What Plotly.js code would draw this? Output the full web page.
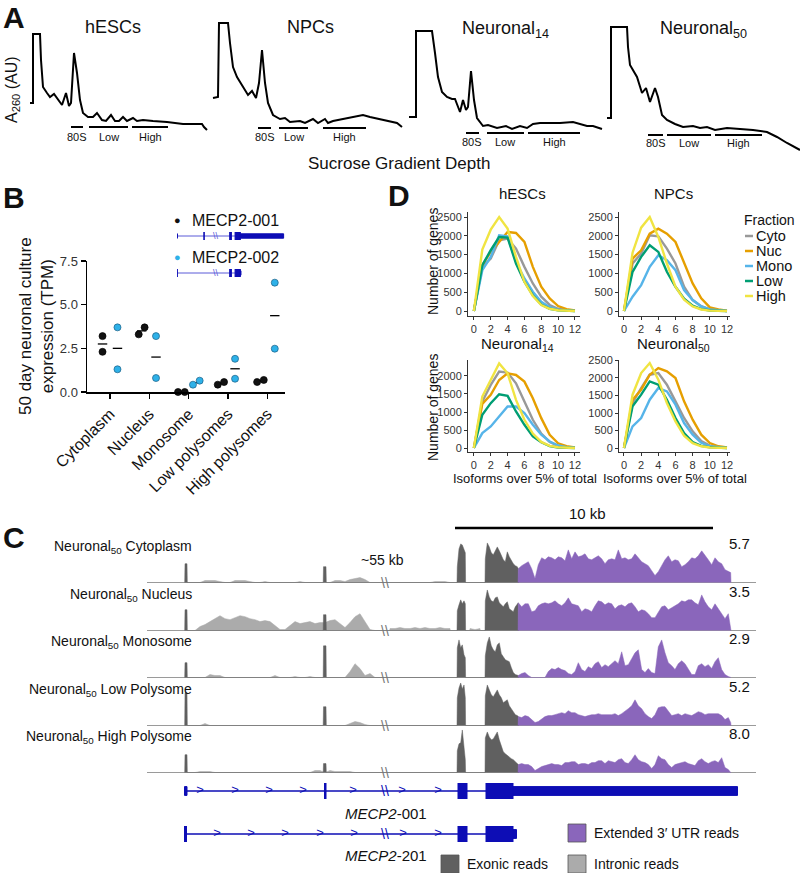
<!DOCTYPE html>
<html><head><meta charset="utf-8">
<script src="https://cdn.plot.ly/plotly-3.0.1.min.js"></script>
<style>html,body{margin:0;padding:0;background:#fff}</style>
</head><body><div id="chart" style="width:800px;height:873px"></div>
<script>
// ================= DATA =================
// --- Panel A: sucrose gradient A260 traces (depth, absorbance AU) ---
const gradientNames=['hESCs','NPCs','Neuronal<sub>14</sub>','Neuronal<sub>50</sub>'];
const hescDepth=[2,5,5,12,13,15,19,22,26,30,34,38,41,43,46,49,52,55,60,65,69,74,78,83,87,91,95,99,105,109,115,125,139,155,174,176,179];
const hescA260=[49,49,118,118,92,65,59,55,58,52,47,59,46,49,99,79,52,39,35,35,39,32,31,37,31,31,35,31,34,31,32,31,30,28,28,25,22];
const npcDepth=[2,7,8,17,19,22,26,29,34,37,41,45,48,51,54,57,62,69,74,79,89,94,102,107,114,117,122,132,142,152,159,172,186,191];
const npcA260=[54,55,129,129,109,85,75,70,63,57,61,54,69,102,69,49,37,33,34,30,31,29,33,29,33,29,31,33,35,37,35,32,29,25];
const n14Depth=[3,10,10,26,29,32,36,41,46,49,54,57,60,62,65,68,71,77,82,91,100,106,114,121,127,134,144,154,167,176,181,187,196];
const n14A260=[35,35,121,121,99,75,60,55,53,53,40,52,42,45,81,52,34,26,27,24,26,23,26,24,28,29,29,29,30,27,26,26,23];
const n50Depth=[2,6,6,22,23,25,32,37,41,45,50,53,57,62,70,78,88,95,102,110,122,135,148,162,172,182,190,195];
const n50A260=[34,34,125,125,105,87,75,59,64,50,64,55,37,32,28,25,26,24,25,22,24,23,22,20,15,9,5,2];
const fractionLabels=['80S','Low','High'];
const hescFractions=[[43,55],[61,100],[104,140]];
const npcFractions=[[47,60],[68,97],[112,155]];
const n14Fractions=[[60,73],[81,118],[122,174]];
const n50Fractions=[[43,58],[62,106],[110,157]];

// --- Panel B: MECP2 isoform expression (TPM), two replicates per fraction ---
const bCategories=['Cytoplasm','Nucleus','Monosome','Low polysomes','High polysomes'];
const mecp2_001=[[3.2,2.3],[3.3,3.7],[0,0],[0.42,0.57],[0.57,0.69]];
const mecp2_002=[[3.7,1.3],[3.2,0.8],[0.42,0.65],[1.9,0.76],[6.26,2.48]];

// --- Panel D: number of genes vs isoforms over 5% of total ---
const isoformCount=[0,1,2,3,4,5,6,7,8,9,10,11,12];
const fractions=['Cyto','Nuc','Mono','Low','High'];
const hescGenes={Cyto:[0,1174,1395,1880,1925,1660,1174,733,380,160,60,20,5],
  Nuc:[0,1218,1572,1836,2101,2075,1836,1174,645,336,132,50,15],
  Mono:[0,1086,1439,2013,1987,1307,865,512,247,100,35,10,0],
  Low:[0,1218,1616,1969,1951,1263,777,420,170,60,20,5,0],
  High:[0,1634,2163,2500,2190,1440,777,397,159,60,20,5,0]};
const npcGenes={Cyto:[0,1263,1528,2013,1987,1660,1263,645,291,130,45,15,0],
  Nuc:[0,1395,1616,2057,2190,2057,1836,1263,733,336,97,40,10],
  Mono:[0,380,689,1174,1483,1351,1086,556,291,120,40,10,0],
  Low:[0,1042,1439,1748,1572,1042,645,330,140,50,15,5,0],
  High:[0,1550,2216,2500,1969,1263,645,300,120,40,10,0,0]};
const n14Genes={Cyto:[0,1291,1752,2121,2093,1798,1291,784,400,170,60,20,5],
  Nuc:[0,1226,1475,1890,2075,2028,1844,1383,830,369,130,50,15],
  Mono:[0,415,599,876,1153,1153,968,645,369,180,70,20,5],
  Low:[0,922,1245,1494,1448,1014,645,323,160,50,15,5,0],
  High:[0,1429,1890,2351,2075,1337,784,400,170,60,20,5,0]};
const n50Genes={Cyto:[0,1285,1714,2094,2142,1809,1333,857,476,200,70,20,5],
  Nuc:[0,1380,1666,2094,2285,2190,2000,1333,809,381,143,50,15],
  Mono:[0,619,857,1380,1714,1618,1238,714,381,150,50,15,0],
  Low:[0,1190,1523,1904,1809,1380,857,428,170,60,20,5,0],
  High:[0,1523,2142,2428,1952,1285,762,350,140,50,15,5,0]};

// --- Panel C: read coverage tracks (display genome coordinate, coverage height) ---
const trackNames=['Neuronal<sub>50</sub> Cytoplasm','Neuronal<sub>50</sub> Nucleus','Neuronal<sub>50</sub> Monosome','Neuronal<sub>50</sub> Low Polysome','Neuronal<sub>50</sub> High Polysome'];
const trackScale=['5.7','3.5','2.9','5.2','8.0'];
const intronPosLeft=[190,195,200,205,210,215,220,225,230,235,240,245,250,255,260,265,270,275,280,285,290,295,300,305,310,315,320,325,330,335,340,345,350,355,360,365,370,375,380];
const intronPosRight=[390,395,400,405,410,415,420,425,430,435,440,445,450];
const intronPosMid=[470,475,480];
const intronLeft=[
 [0,0,0,2,2,2,1,0,0,2,2,2,1,0,0,1,0,0,0,0,0,0,1,0,0,0,0,0,0,2,2,1,3,4,5,3,0,0,0],
 [0,0,4,6,9,12,15,12,11,13,15,14,12,11,9,10,9,5,1,1,5,9,7,8,9,7,8,8,10,11,7,3,8,14,17,9,1,0,0],
 [0,0,0,0,3,2,2,0,0,0,0,0,0,0,0,0,0,2,0,0,0,1,0,0,1,0,0,0,0,0,0,0,6,14,9,2,4,0,0],
 [0,0,0,2,0,0,0,0,0,0,0,0,0,0,0,0,0,0,0,0,0,0,0,0,0,0,0,0,0,0,0,0,2,4,3,1,0,0,0],
 [0,0,1,1,1,0,0,0,0,0,0,0,0,0,0,0,0,0,0,0,0,0,0,0,0,2,2,0,2,1,1,1,1,0,0,0,0,0,0]];
const intronRight=[
 [0,0,0,0,0,0,0,0,0,1,1,1,0],
 [2,2,3,2,2,3,2,3,2,2,3,2,2],
 [0,0,0,0,0,0,0,0,0,0,0,0,0],
 [0,0,0,0,0,0,0,0,0,0,0,0,0],
 [0,0,0,0,0,0,0,0,0,0,0,0,0]];
const intronMid=[[0,0,0],[2,1,2],[0,0,0],[0,0,0],[0,0,0]];
const exon1Pos=[185,187];
const exon2Pos=[323.5,326];
const exon3Pos=[457.3,459.0,460.7,462.3,464.0,465.3];
const exon4Pos=[485.3,487.3,489.3,491.3,493.3,495.3,497.3,499.3,501.3,503.3,505.3,507.3,509.3,511.3,513.3,515.3,517.3,518.3];
const exon1H=[19,21,15,33,18];
const exon2H=[16,16,32,19,9];
const exon3H=[[16,34,39,38,33,30],[20,26,31,27,30,27],[30,38,30,33,23,20],[28,38,43,37,41,28],[22,29,30,43,26,13]];
const exon4H=[
 [24,40,36,30,28,33,36,32,27,23,21,31,26,22,19,17,16,14],
 [30,41,34,30,29,33,34,28,26,24,27,29,22,20,19,24,26,28],
 [22,35,41,32,28,26,33,35,24,21,18,17,16,10,5,3,2,2],
 [30,41,35,31,29,33,36,31,28,23,25,26,20,17,13,11,10,9],
 [35,41,36,33,34,38,41,33,26,21,19,17,15,14,13,11,9,8]];
const utrPos=[518.3,521.7,525.0,528.3,531.7,535.0,538.3,541.7,545.0,548.3,551.7,555.0,558.3,561.7,565.0,568.3,571.7,575.0,578.3,581.7,585.0,588.3,591.7,595.0,598.3,601.7,605.0,608.3,611.7,615.0,618.3,621.7,625.0,628.3,631.7,635.0,638.3,641.7,645.0,648.3,651.7,655.0,658.3,661.7,665.0,668.3,671.7,675.0,678.3,681.7,685.0,688.3,691.7,695.0,698.3,701.7,705.0,708.3,711.7,715.0,718.3,721.7,725.0,728.3,730.7];
const utrH=[
 [14,17,19,21,14,4,18,25,23,26,25,23,26,25,22,33,24,31,26,27,29,24,23,25,27,24,19,23,24,23,33,24,25,23,24,29,25,21,19,17,12,7,11,17,23,27,21,23,22,16,18,21,25,24,27,32,28,23,18,25,21,19,13,11,10],
 [28,24,27,27,19,20,25,27,28,27,28,30,27,25,28,33,27,26,25,19,22,21,19,25,30,29,26,28,27,22,25,26,24,27,28,24,19,21,20,17,13,13,19,24,25,21,23,25,27,30,29,31,31,28,26,36,29,24,21,27,22,17,12,17,4],
 [2,4,5,2,0,0,0,0,0,6,9,8,10,8,7,4,3,6,15,8,6,11,9,14,16,10,13,11,14,17,14,26,12,13,19,25,28,8,5,9,5,4,31,38,25,15,12,8,14,17,14,8,3,3,12,14,11,13,9,16,20,8,3,1,0],
 [9,8,10,9,6,3,4,7,9,10,10,11,12,13,12,15,13,13,11,10,9,10,11,11,12,11,11,11,11,12,10,12,15,17,20,26,20,17,12,9,7,11,18,19,19,14,10,11,12,10,12,11,10,12,14,13,11,12,12,12,12,10,6,8,3],
 [8,9,8,8,6,2,4,6,7,8,9,8,8,7,10,10,11,11,8,9,9,8,10,10,12,12,9,12,11,10,13,14,10,9,13,18,13,11,10,8,4,8,17,14,13,8,5,8,9,10,11,9,8,7,12,14,11,9,11,12,10,15,5,3,0]];
const breakPos=385;
// gene models: [start, end, part]
const mecp2_001_exons=[[184.5,187,'utr'],[324.5,326,'cds'],[458,467,'cds'],[486,513,'cds'],[513,737.5,'utr']];
const mecp2_201_exons=[[184.5,186.5,'cds'],[458,467,'cds'],[486,513,'cds'],[513,516.5,'utr']];
const chevrons001=[200,235,269,303,353,402,438];
const chevrons201=[217,251,285,320,354,403,438];
const scaleBar10kb=[455,713];

// ================= STYLE / LAYOUT =================
const W=800,H=873;
const FONT='Liberation Sans, Arial, Helvetica, sans-serif';
const dx=(a,b)=>[a/W,b/W];
const dy=(t,b)=>[1-b/H,1-t/H];
const px=x=>x/W, py=y=>1-y/H;
const fractionColors={Cyto:'#999999',Nuc:'#E69F00',Mono:'#56B4E9',Low:'#009E73',High:'#F0E442'};
const PURPLE='#8a66bb', EXONIC='#606060', INTRONIC='#ababab', GENE='#0d0db5', BASE='#9a9a9a';
const exonHalf={cds:1,utr:0.55};

const data=[];
const layout={width:W,height:H,margin:{l:0,r:0,t:0,b:0},paper_bgcolor:'#fff',plot_bgcolor:'rgba(0,0,0,0)',
  showlegend:false,font:{family:FONT,color:'#111'},annotations:[],shapes:[]};
function ann(o){const f=Object.assign({family:FONT,size:14,color:'#111'},o.font||{});
  layout.annotations.push(Object.assign({showarrow:false,xref:'paper',yref:'paper',xanchor:'center',yanchor:'middle',borderpad:0},o,{font:f}));}
const hidden=o=>Object.assign({visible:false,fixedrange:true},o);
const sfx=n=>n===1?'':String(n);

// ---------- Panel A ----------
const aSeries=[[hescDepth,hescA260,hescFractions],[npcDepth,npcA260,npcFractions],[n14Depth,n14A260,n14Fractions],[n50Depth,n50A260,n50Fractions]];
const aCfg=[{dom:[28,210],w:182,barY:25,labY:15,tx:113,ty:27},{dom:[211,404],w:193,barY:24,labY:15,tx:310,ty:27},
            {dom:[406,604],w:198,barY:19,labY:10,tx:505,ty:30},{dom:[605,800],w:195,barY:17,labY:9,tx:703,ty:30}];
aSeries.forEach((s,i)=>{
  const n=i+1,c=aCfg[i];
  layout['xaxis'+sfx(n)]=hidden({domain:dx(c.dom[0],c.dom[1]),range:[0,c.w],anchor:'y'+sfx(n)});
  layout['yaxis'+sfx(n)]=hidden({domain:dy(20,152),range:[0,132],anchor:'x'+sfx(n)});
  data.push({type:'scatter',mode:'lines',x:s[0],y:s[1],xaxis:'x'+sfx(n),yaxis:'y'+sfx(n),line:{color:'#000',width:2},hoverinfo:'skip',cliponaxis:false});
  s[2].forEach((f,k)=>{
    data.push({type:'scatter',mode:'lines',x:f,y:[c.barY,c.barY],xaxis:'x'+sfx(n),yaxis:'y'+sfx(n),line:{color:'#000',width:2},hoverinfo:'skip'});
    ann({xref:'x'+sfx(n),yref:'y'+sfx(n),x:(f[0]+f[1])/2,y:c.labY,text:fractionLabels[k],font:{size:11}});
  });
  ann({x:px(c.tx),y:py(c.ty),text:gradientNames[i],font:{size:18}});
});
ann({x:px(13),y:py(90),text:'A<sub>260</sub> (AU)',textangle:-90,font:{size:16}});
ann({x:px(399),y:py(163),text:'Sucrose Gradient Depth',font:{size:17}});
ann({x:px(14),y:py(17),text:'<b>A</b>',font:{size:30}});

// ---------- Panel B ----------
const off001=[[-0.19,-0.19],[-0.27,-0.12],[-0.27,-0.1],[-0.26,-0.1],[-0.26,-0.09]];
const off002=[[0.19,0.19],[0.17,0.17],[0.11,0.28],[0.18,0.18],[0.19,0.19]];
layout.xaxis5={domain:dx(87,285),range:[-0.585,4.45],anchor:'y5',tickmode:'array',tickvals:[0,1,2,3,4],ticktext:bCategories,
  tickangle:-45,ticks:'outside',ticklen:5,tickwidth:1.5,tickcolor:'#000',showline:true,linecolor:'#000',linewidth:1.5,
  showgrid:false,zeroline:false,tickfont:{family:FONT,size:16,color:'#111'},fixedrange:true};
layout.yaxis5={domain:dy(261,392),range:[0,7.5],anchor:'x5',tickmode:'array',tickvals:[0,2.5,5,7.5],ticktext:['0.0','2.5','5.0','7.5'],
  ticks:'outside',ticklen:5,tickwidth:1.5,tickcolor:'#000',showline:true,linecolor:'#000',linewidth:1.5,
  showgrid:false,zeroline:false,tickfont:{family:FONT,size:13,color:'#333'},fixedrange:true};
function bPoints(vals,offs,color,lineColor){
  const X=[],Y=[],MX=[],MY=[];
  vals.forEach((r,c)=>{r.forEach((v,j)=>{X.push(c+offs[c][j]);Y.push(v);});
    const m=(r[0]+r[1])/2, mo=(offs[c][0]+offs[c][1])/2; MX.push(c+mo-0.12,c+mo+0.12,null); MY.push(m,m,null);});
  data.push({type:'scatter',mode:'lines',x:MX,y:MY,xaxis:'x5',yaxis:'y5',line:{color:'#000',width:1.3},hoverinfo:'skip'});
  data.push({type:'scatter',mode:'markers',x:X,y:Y,xaxis:'x5',yaxis:'y5',cliponaxis:false,
    marker:{size:7,color:color,line:{color:lineColor,width:0.7}},hoverinfo:'skip'});
}
bPoints(mecp2_001,off001,'#111111','#000');
bPoints(mecp2_002,off002,'#2eb1e8','#1b5f85');
ann({x:px(36),y:py(326),text:'50 day neuronal culture<br>expression (TPM)',textangle:-90,font:{size:17}});
ann({x:px(14),y:py(198),text:'<b>B</b>',font:{size:30}});
// legend
ann({x:px(177),y:py(220),text:'●',font:{size:11,color:'#111'}});
ann({x:px(191),y:py(220),xanchor:'left',text:'MECP2-001',font:{size:16}});
ann({x:px(177),y:py(257),text:'●',font:{size:11,color:'#2eb1e8'}});
ann({x:px(191),y:py(257),xanchor:'left',text:'MECP2-002',font:{size:16}});

function geneTraces(exons,chev,xa,ya,lw,lineColor,chevSize){
  const xs=[],ys=[];
  exons.forEach(e=>{const h=exonHalf[e[2]];xs.push(e[0],e[1],e[1],e[0],e[0],null);ys.push(-h,-h,h,h,-h,null);});
  const out=[{type:'scatter',mode:'lines',x:[exons[0][0],exons[exons.length-1][1]],y:[0,0],xaxis:xa,yaxis:ya,line:{color:lineColor,width:lw},hoverinfo:'skip'},
    {type:'scatter',mode:'lines',x:xs,y:ys,xaxis:xa,yaxis:ya,fill:'toself',fillcolor:GENE,line:{color:GENE,width:1},hoverinfo:'skip',cliponaxis:false}];
  if(chev) out.push({type:'scatter',mode:'text',x:chev,y:chev.map(()=>0),text:chev.map(()=>'>'),textposition:'middle center',
    textfont:{family:FONT,size:chevSize,color:GENE},xaxis:xa,yaxis:ya,hoverinfo:'skip',cliponaxis:false});
  return out;
}
// mini gene models in legend B
layout.xaxis6=hidden({domain:dx(177,287),range:[185,755],anchor:'y6'});
layout.yaxis6=hidden({domain:dy(232,240),range:[-1,1],anchor:'x6'});
layout.yaxis7=hidden({domain:dy(269,277),range:[-1,1],anchor:'x6'});
data.push(...geneTraces(mecp2_001_exons,null,'x6','y6',1,'#5a5ad8'));
data.push(...geneTraces(mecp2_201_exons,null,'x6','y7',1,'#5a5ad8'));
ann({xref:'x6',yref:'paper',x:breakPos,y:py(236),text:'\\\\',font:{size:9,color:'#5a5ad8'}});
ann({xref:'x6',yref:'paper',x:breakPos,y:py(273),text:'\\\\',font:{size:9,color:'#5a5ad8'}});

// ---------- Panel D ----------
const dCfg=[
  {genes:hescGenes,name:'hESCs',xd:[468,580],yd:[212,316],xr:[-0.7,12.6],yr:[-133,2633],tx:522,ty:193},
  {genes:npcGenes,name:'NPCs',xd:[619,730],yd:[212,316],xr:[-0.58,12.35],yr:[-133,2633],tx:673,ty:193},
  {genes:n14Genes,name:'Neuronal<sub>14</sub>',xd:[468,580],yd:[360,452],xr:[-0.7,12.6],yr:[-111,2444],tx:517,ty:345},
  {genes:n50Genes,name:'Neuronal<sub>50</sub>',xd:[619,730],yd:[360,452],xr:[-0.58,12.35],yr:[-114,2514],tx:673,ty:345}];
const dAx={showline:true,linecolor:'#333',linewidth:1,ticks:'outside',ticklen:3,tickcolor:'#333',tickwidth:1,
  showgrid:false,zeroline:false,tickfont:{family:FONT,size:11,color:'#333'},fixedrange:true};
dCfg.forEach((c,i)=>{
  const n=8+i;
  layout['xaxis'+n]=Object.assign({},dAx,{domain:dx(c.xd[0],c.xd[1]),range:c.xr,anchor:'y'+n,tickmode:'array',tickvals:[0,2,4,6,8,10,12]});
  layout['yaxis'+n]=Object.assign({},dAx,{domain:dy(c.yd[0],c.yd[1]),range:c.yr,anchor:'x'+n,tick0:0,dtick:500});
  fractions.forEach(f=>{
    data.push({type:'scatter',mode:'lines',x:isoformCount,y:c.genes[f],xaxis:'x'+n,yaxis:'y'+n,name:f,
      line:{color:fractionColors[f],width:2.4},hoverinfo:'skip'});
  });
  ann({x:px(c.tx),y:py(c.ty),text:c.name,font:{size:15}});
});
ann({x:px(433),y:py(262),text:'Number of genes',textangle:-90,font:{size:14}});
ann({x:px(433),y:py(408),text:'Number of genes',textangle:-90,font:{size:14}});
ann({x:px(525),y:py(478),text:'Isoforms over 5% of total',font:{size:13}});
ann({x:px(675),y:py(478),text:'Isoforms over 5% of total',font:{size:13}});
ann({x:px(743),y:py(220),xanchor:'left',text:'Fraction',font:{size:14}});
fractions.forEach((f,i)=>{
  const y=236+i*15;
  layout.shapes.push({type:'line',xref:'paper',yref:'paper',x0:px(745),x1:px(753),y0:py(y),y1:py(y),line:{color:fractionColors[f],width:2.5}});
  ann({x:px(755),y:py(y),xanchor:'left',text:f,font:{size:14.5}});
});
ann({x:px(399),y:py(196),text:'<b>D</b>',font:{size:30}});

// ---------- Panel C ----------
const baselines=[583,631,678,726,773];
layout.xaxis12=hidden({domain:dx(147,756),range:[147,756],anchor:'y16'});
function segTrace(segs,ya,color){
  const X=[],Y=[];
  segs.forEach(s=>{X.push(s.x[0]-0.3);Y.push(0);s.x.forEach((v,i)=>{X.push(v);Y.push(s.y[i]);});X.push(s.x[s.x.length-1]+0.3);Y.push(0);});
  return {type:'scatter',mode:'lines',x:X,y:Y,xaxis:'x12',yaxis:ya,fill:'tozeroy',fillcolor:color,line:{color:color,width:0.5},hoverinfo:'skip'};
}
baselines.forEach((b,i)=>{
  const n=12+i, ya='y'+n;
  layout['yaxis'+n]={domain:dy(b-45,b),range:[-0.5,45],anchor:'x12',showticklabels:false,ticks:'',showgrid:false,showline:false,
    zeroline:true,zerolinecolor:BASE,zerolinewidth:1.5,fixedrange:true};
  data.push(segTrace([{x:intronPosLeft,y:intronLeft[i]},{x:intronPosRight,y:intronRight[i]},{x:intronPosMid,y:intronMid[i]}],ya,INTRONIC));
  data.push(segTrace([{x:exon1Pos,y:[exon1H[i],exon1H[i]]},{x:exon2Pos,y:[exon2H[i],exon2H[i]]},{x:exon3Pos,y:exon3H[i]},{x:exon4Pos,y:exon4H[i]}],ya,EXONIC));
  data.push(segTrace([{x:utrPos,y:utrH[i]}],ya,PURPLE));
  ann({x:px(193),y:py(b-36),xanchor:'right',text:trackNames[i],font:{size:14}});
  ann({x:px(751),y:py(b-40),xanchor:'right',text:trackScale[i],font:{size:15}});
  ann({xref:'x12',x:breakPos,y:py(b),text:'\\\\',font:{size:14,color:'#777'}});
});
layout.yaxis17=hidden({domain:dy(783,799),range:[-1,1],anchor:'x12'});
layout.yaxis18=hidden({domain:dy(826,842),range:[-1,1],anchor:'x12'});
data.push(...geneTraces(mecp2_001_exons,chevrons001,'x12','y17',1.5,GENE,13));
data.push(...geneTraces(mecp2_201_exons,chevrons201,'x12','y18',1.5,GENE,13));
ann({xref:'x12',x:breakPos,y:py(791),text:'\\\\',font:{size:14,color:GENE}});
ann({xref:'x12',x:breakPos,y:py(834),text:'\\\\',font:{size:14,color:GENE}});
ann({x:px(386),y:py(813),text:'<i>MECP2</i>-001',font:{size:15}});
ann({x:px(386),y:py(855),text:'<i>MECP2</i>-201',font:{size:15}});
layout.shapes.push({type:'line',xref:'x12',yref:'paper',x0:scaleBar10kb[0],x1:scaleBar10kb[1],y0:py(528),y1:py(528),line:{color:'#000',width:2.5}});
ann({x:px(587),y:py(513),text:'10 kb',font:{size:15}});
ann({x:px(382),y:py(560),text:'~55 kb',font:{size:14}});
ann({x:px(14),y:py(537),text:'<b>C</b>',font:{size:30}});
// legend C
[[568,824,PURPLE,'Extended 3\u2032 UTR reads',593,833],[441,855,EXONIC,'Exonic reads',466,864],[568,855,INTRONIC,'Intronic reads',593,864]].forEach(l=>{
  layout.shapes.push({type:'rect',xref:'paper',yref:'paper',x0:px(l[0]),x1:px(l[0]+18),y0:py(l[1]+18),y1:py(l[1]),fillcolor:l[2],line:{color:'#555',width:0.8}});
  ann({x:px(l[4]),y:py(l[5]),xanchor:'left',text:l[3],font:{size:14}});
});

Plotly.newPlot('chart',data,layout,{staticPlot:true,displayModeBar:false});
</script></body></html>
